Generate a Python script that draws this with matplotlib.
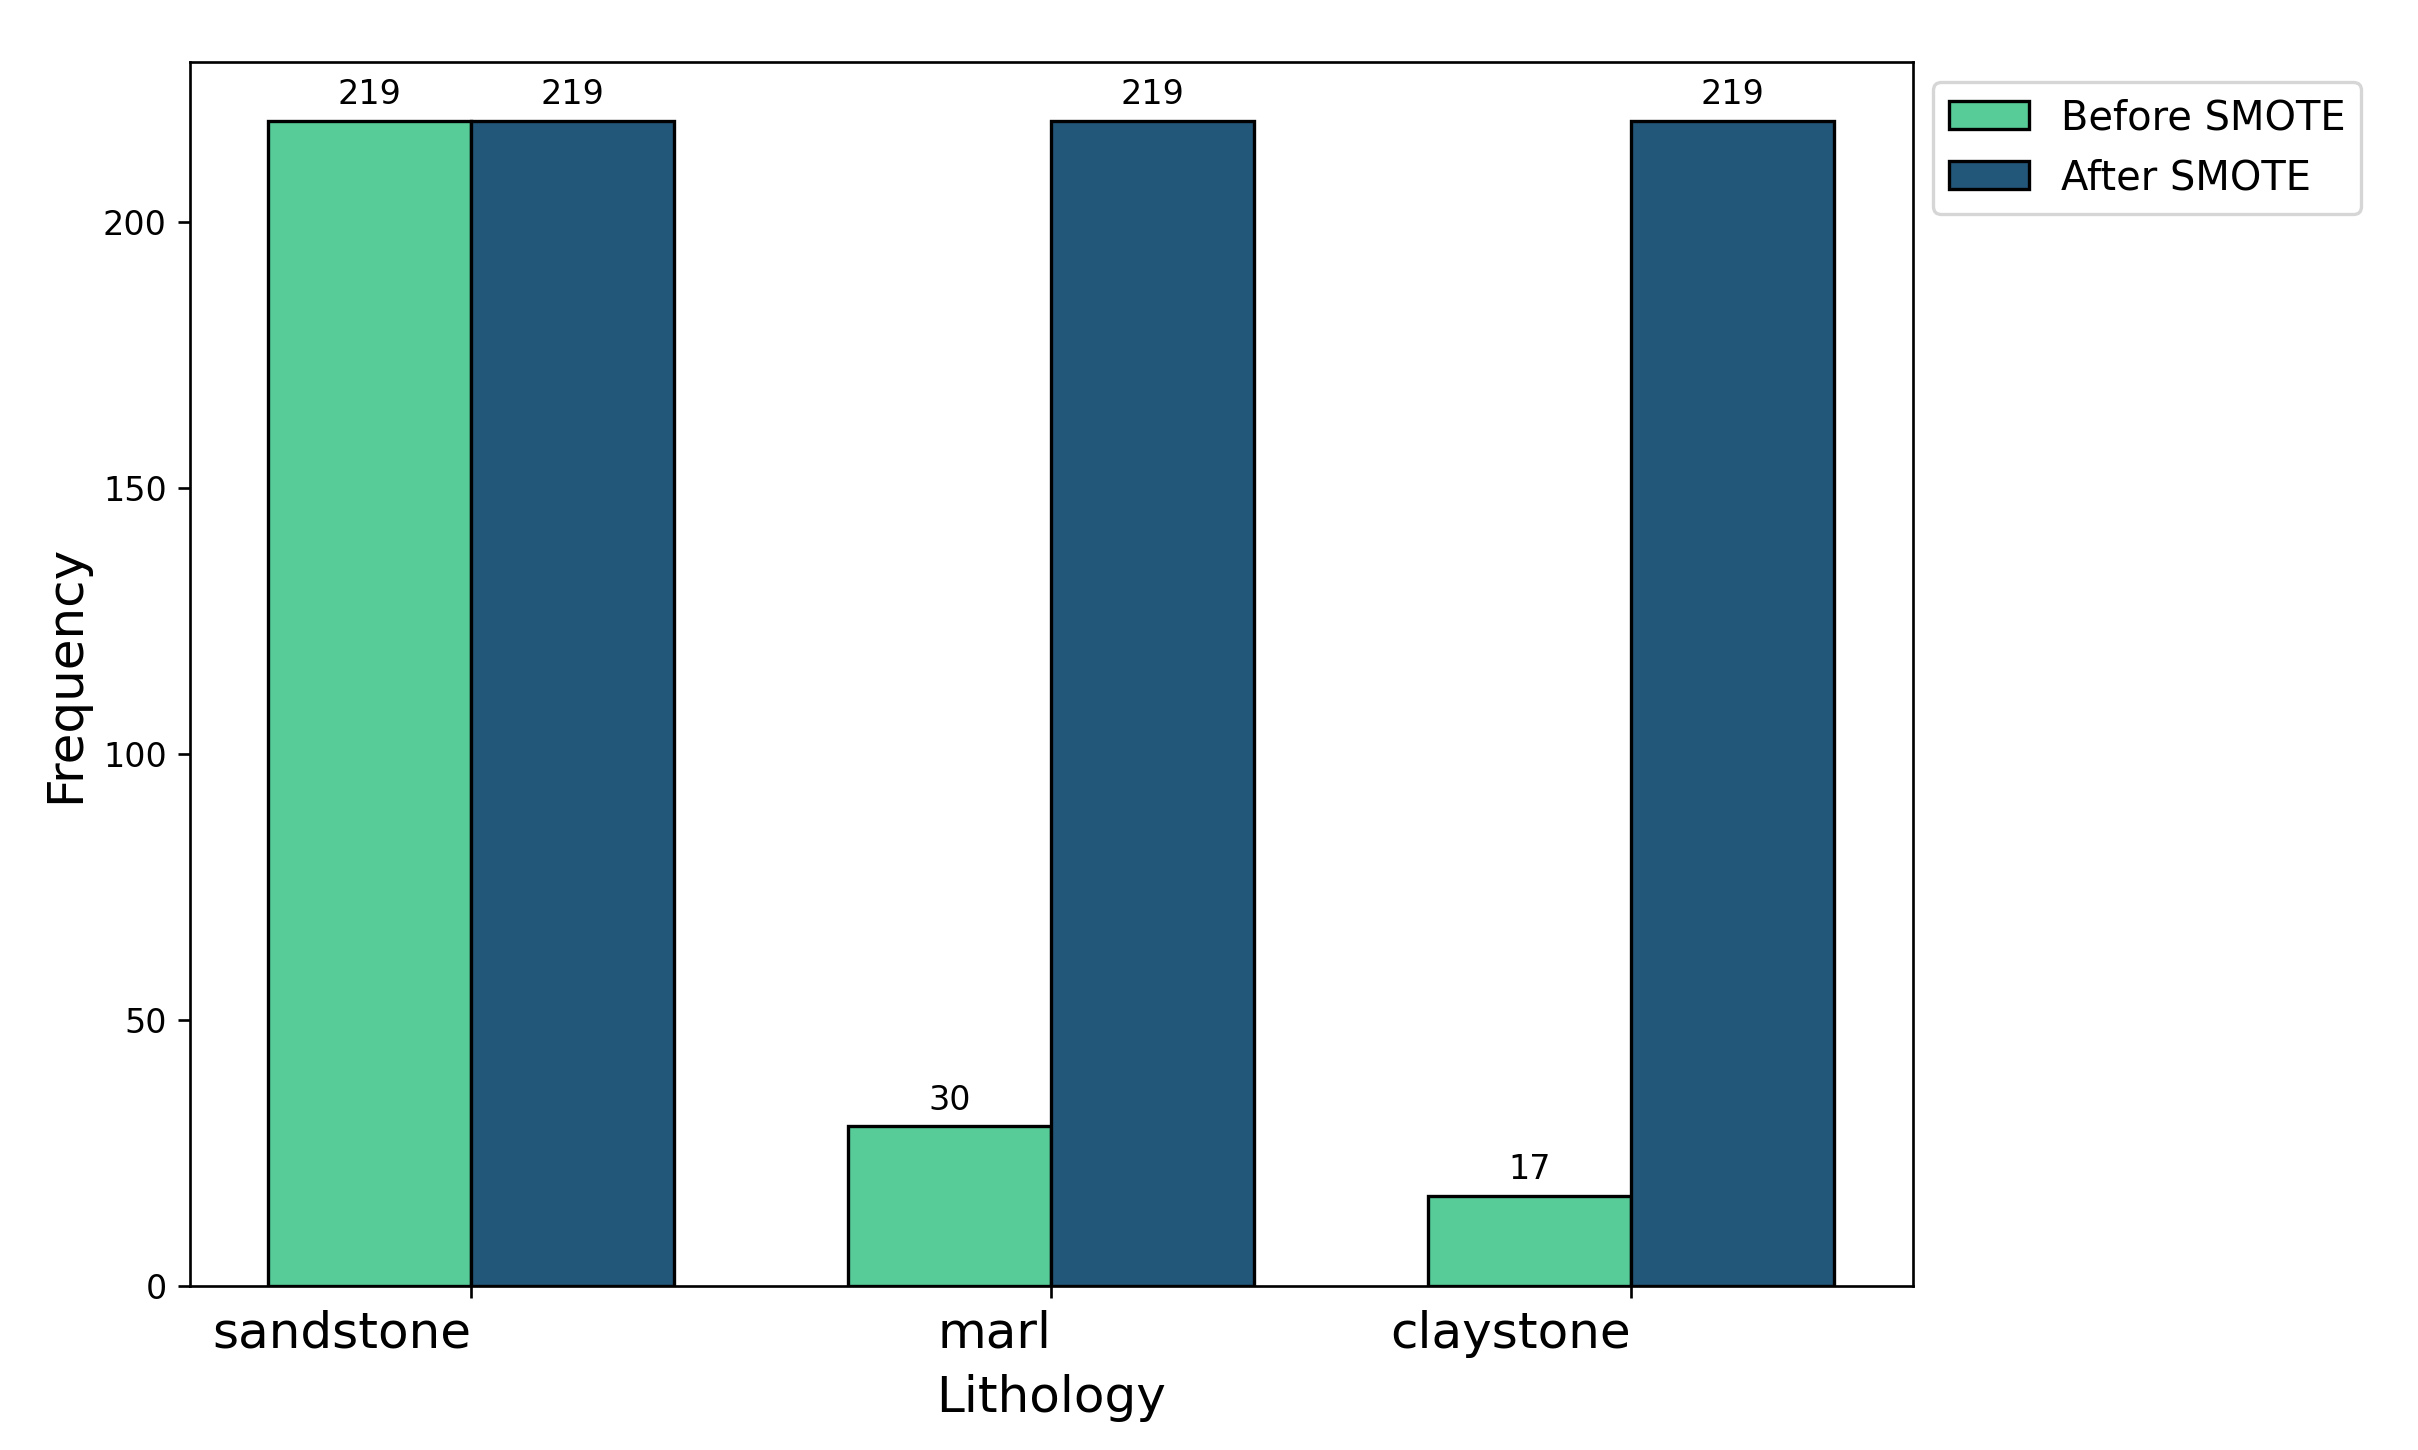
import numpy as np
import matplotlib
matplotlib.use("Agg")
import matplotlib.pyplot as plt

lithology = ["sandstone", "marl", "claystone"]
before_smote = [219, 30, 17]
after_smote = [219, 219, 219]

x = np.arange(len(lithology))
width = 0.35

fig, ax = plt.subplots(figsize=(10.075, 6.042), dpi=240)
fig.subplots_adjust(left=0.0786, right=0.791, top=0.957, bottom=0.113)

b1 = ax.bar(x - width / 2, before_smote, width, label="Before SMOTE",
            color="#57cc99", edgecolor="black")
b2 = ax.bar(x + width / 2, after_smote, width, label="After SMOTE",
            color="#22577a", edgecolor="black")

for bars in (b1, b2):
    for bar in bars:
        h = bar.get_height()
        ax.annotate(f"{h}", xy=(bar.get_x() + bar.get_width() / 2, h),
                    xytext=(0, 3), textcoords="offset points",
                    ha="center", va="bottom", fontsize=10)

ax.set_xticks(x)
ax.set_xticklabels(lithology, fontsize=15, ha="right")
ax.set_xlabel("Lithology", fontsize=15, labelpad=5)
ax.set_ylabel("Frequency", fontsize=15)
ax.tick_params(axis="y", labelsize=10)
ax.legend(loc="upper left", bbox_to_anchor=(1, 1), fontsize=12)

fig.savefig("out.png", dpi=240)
